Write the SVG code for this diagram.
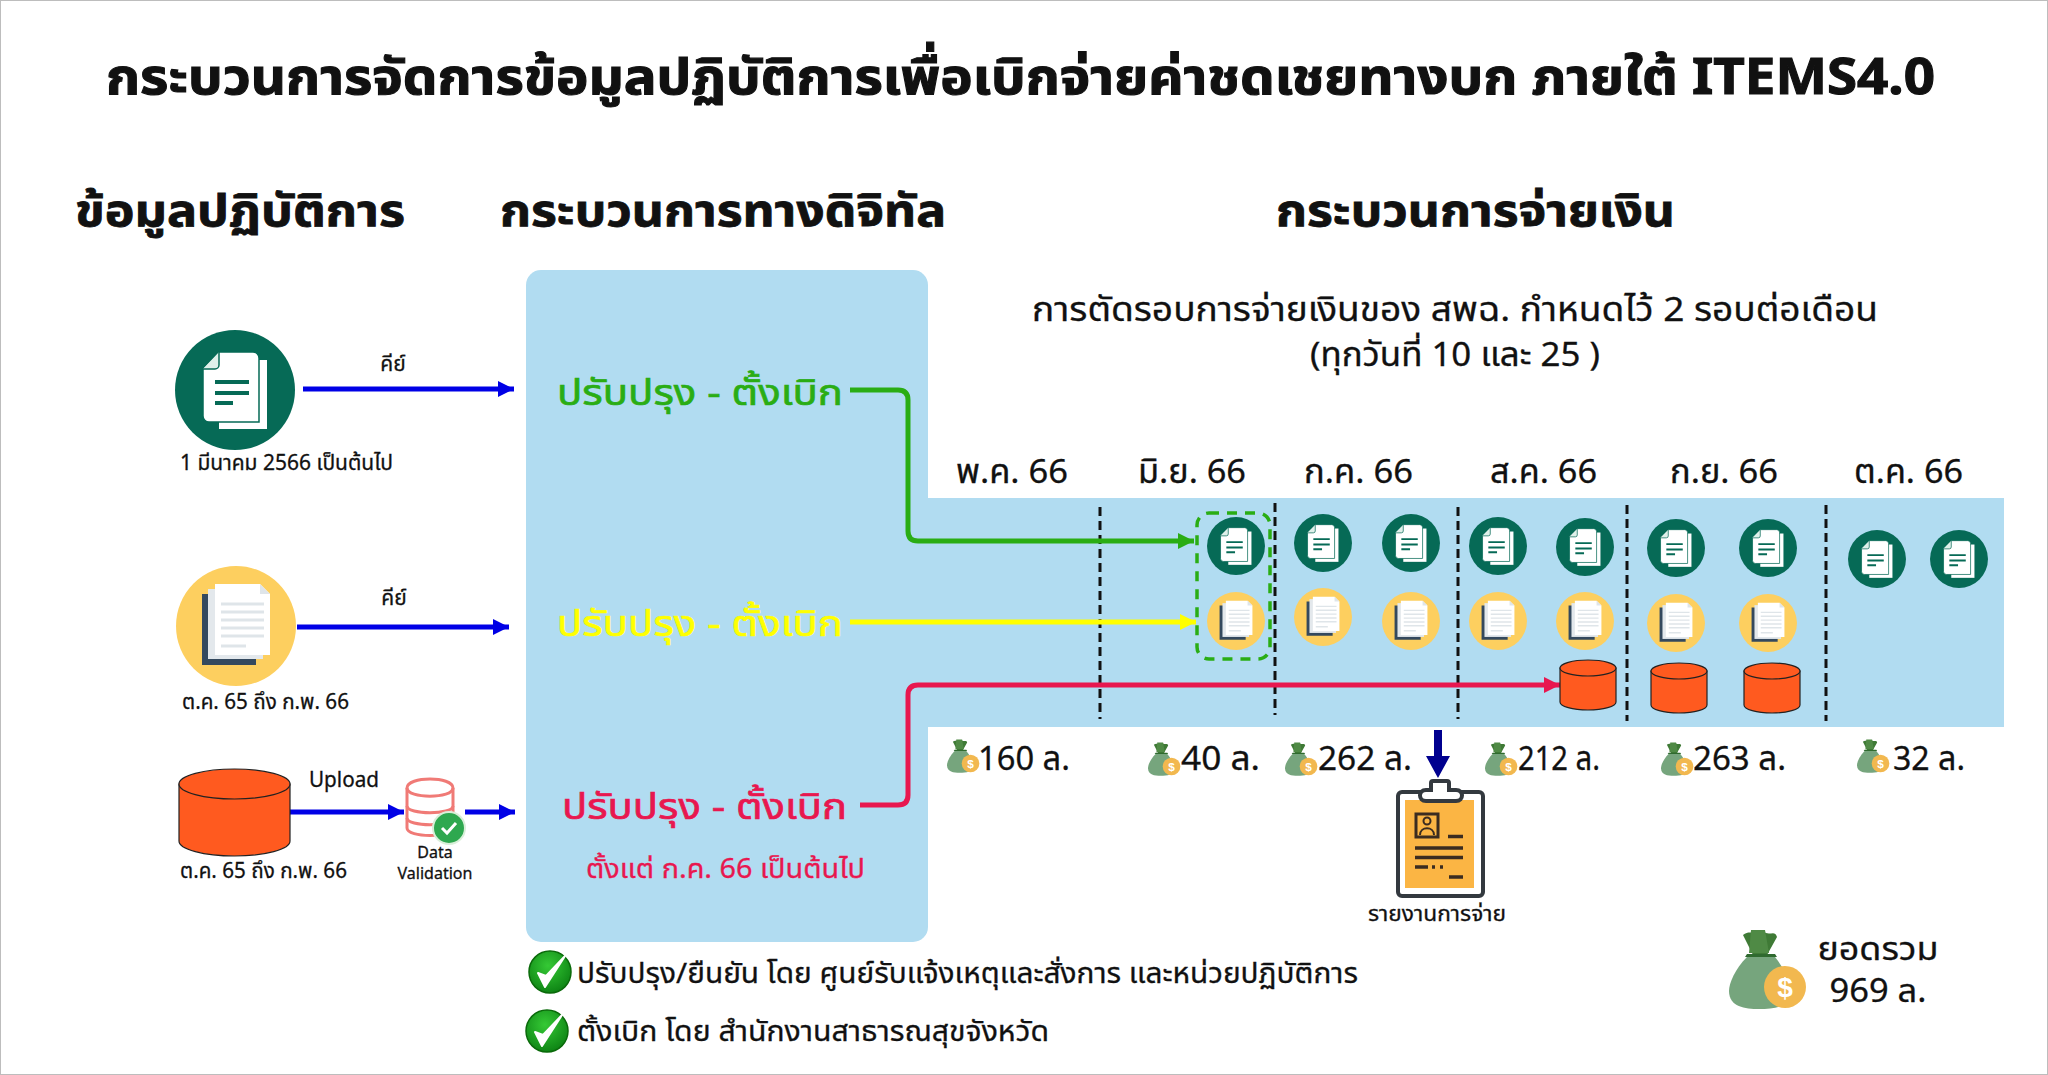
<svg xmlns="http://www.w3.org/2000/svg" xmlns:xlink="http://www.w3.org/1999/xlink" width="2048" height="1075" viewBox="0 0 2048 1075">
<style>
text{font-family:"Noto Sans","Noto Sans Thai","Liberation Sans",sans-serif;fill:#111;stroke:#111;stroke-width:.3;paint-order:stroke}
.b{font-weight:700;stroke-width:1.1}
.h{font-size:44px;font-weight:700;stroke-width:.8}
.m{font-size:33px;text-anchor:start}
.a{font-size:33px}
.s{font-size:21px}
.conn{fill:none;stroke-width:5;stroke-linejoin:round}
</style>
<defs>
<radialGradient id="okFill" cx=".45" cy=".35" r=".7"><stop offset="0" stop-color="#35c935"/><stop offset="1" stop-color="#0b7f12"/></radialGradient>
<marker id="mBlue" markerUnits="userSpaceOnUse" markerWidth="18" markerHeight="18" refX="16" refY="8" orient="auto"><path d="M0 0L16 8L0 16z" fill="#0000e6"/></marker>
<marker id="mGreen" markerUnits="userSpaceOnUse" markerWidth="18" markerHeight="18" refX="16" refY="8" orient="auto"><path d="M0 0L16 8L0 16z" fill="#2aad14"/></marker>
<marker id="mYellow" markerUnits="userSpaceOnUse" markerWidth="18" markerHeight="18" refX="16" refY="8" orient="auto"><path d="M0 0L16 8L0 16z" fill="#ffff00"/></marker>
<marker id="mRed" markerUnits="userSpaceOnUse" markerWidth="18" markerHeight="18" refX="16" refY="8" orient="auto"><path d="M0 0L16 8L0 16z" fill="#e8174f"/></marker>
<g id="docGBig">
<circle r="60" fill="#066a56"/>
<path d="M-16 -30H32V39H-16z" fill="#fff"/>
<path d="M-16 -38H18a6 6 0 0 1 6 6V32H-26a6 6 0 0 1 -6 -6V-22z" fill="#fff" stroke="#066a56" stroke-width="1.5"/>
<path d="M-32 -21H-20a4 4 0 0 0 4 -4V-38" fill="#dff0ea" stroke="#066a56" stroke-width="1.5"/>
<path d="M-20 -8H14M-20 3H14M-20 13H-2" stroke="#066a56" stroke-width="4" fill="none"/>
</g>
<g id="docYBig">
<circle r="60" fill="#fdcf5f"/>
<path d="M-34 -32H-26V31H20V39H-34z" fill="#34495e"/>
<path d="M-28 -37H27V33H-28z" fill="#e3e8ec"/>
<path d="M-21 -42H24L34 -32V29H-21z" fill="#fff"/>
<path d="M24 -42V-32H34z" fill="#dfe5e9"/>
<path d="M-15 -22H28M-15 -14H28M-15 -6H28M-15 2H28M-15 10H28M-15 20H10" stroke="#dfe5e9" stroke-width="3" fill="none"/>
</g>
<use id="docG" xlink:href="#docGBig" transform="scale(.483)"/>
<use id="docY" xlink:href="#docYBig" transform="scale(.483)"/>
<g id="canS">
<path d="M-28 -17V17A28 8 0 0 0 28 17V-17z" fill="#ff5a1f" stroke="#222" stroke-width="1.2"/>
<ellipse cy="-17" rx="28" ry="8" fill="#ff5a1f" stroke="#222" stroke-width="1.2"/>
</g>
<g id="moneyBig">
<path d="M14 4C22 -2 28 6 34 0C40 6 46 -2 48 6L38 24H24z" fill="#3f7a36"/>
<path d="M22 -1H36L40 22H20z" fill="#4f8a45"/>
<path d="M18 23H46L48 26H16z" fill="#2f6a2f"/>
<path d="M18 26C6 38 0 52 0 60C0 76 16 78 30 78C46 78 62 76 62 60C62 50 54 36 46 26z" fill="#76a57d"/>
<circle cx="56" cy="56" r="21" fill="#f2b84f"/>
<text x="56" y="66" text-anchor="middle" style="font-family:'Liberation Sans',sans-serif;font-size:28px;font-weight:700;fill:#fff;stroke:none">$</text>
</g>
<use id="moneyS" xlink:href="#moneyBig" transform="scale(.42)"/>
<g id="okMark">
<circle r="21" fill="url(#okFill)" stroke="#0a6a0a" stroke-width="1.5"/>
<path d="M-12 1L-5 15L15 -16L-4 4z" fill="#fff" stroke="#fff" stroke-width="2" stroke-linejoin="round"/>
</g>
</defs>
<rect width="2048" height="1075" fill="#fff"/>
<rect x=".5" y=".5" width="2047" height="1074" fill="none" stroke="#bdbdbd"/>

<g id="background">
<rect x="526" y="270" width="402" height="672" rx="15" fill="#b1dcf1"/>
<rect x="920" y="498" width="1084" height="229" fill="#b1dcf1"/>
</g>

<g id="titles">
<text x="106" y="94" class="b" style="font-size:50px" textLength="1829" lengthAdjust="spacingAndGlyphs">กระบวนการจัดการข้อมูลปฏิบัติการเพื่อเบิกจ่ายค่าชดเชยทางบก ภายใต้ ITEMS4.0</text>
<text x="75" y="226" class="h" textLength="330" lengthAdjust="spacingAndGlyphs">ข้อมูลปฏิบัติการ</text>
<text x="500" y="226" class="h" textLength="446" lengthAdjust="spacingAndGlyphs">กระบวนการทางดิจิทัล</text>
<text x="1276" y="226" class="h" textLength="399" lengthAdjust="spacingAndGlyphs">กระบวนการจ่ายเงิน</text>
<text x="1032" y="321" style="font-size:33px" textLength="846" lengthAdjust="spacingAndGlyphs">การตัดรอบการจ่ายเงินของ สพฉ. กำหนดไว้ 2 รอบต่อเดือน</text>
<text x="1310" y="366" style="font-size:33px" textLength="290" lengthAdjust="spacingAndGlyphs">(ทุกวันที่ 10 และ 25 )</text>
</g>

<g id="months">
<text x="956" y="483" class="m" textLength="112" lengthAdjust="spacingAndGlyphs">พ.ค. 66</text>
<text x="1138" y="483" class="m" textLength="108" lengthAdjust="spacingAndGlyphs">มิ.ย. 66</text>
<text x="1304" y="483" class="m" textLength="109" lengthAdjust="spacingAndGlyphs">ก.ค. 66</text>
<text x="1490" y="483" class="m" textLength="107" lengthAdjust="spacingAndGlyphs">ส.ค. 66</text>
<text x="1670" y="483" class="m" textLength="108" lengthAdjust="spacingAndGlyphs">ก.ย. 66</text>
<text x="1854" y="483" class="m" textLength="109" lengthAdjust="spacingAndGlyphs">ต.ค. 66</text>
</g>

<g id="dividers" fill="none" stroke="#111" stroke-width="3" stroke-dasharray="9 5">
<path d="M1100 507V719"/>
<path d="M1275 503V715"/>
<path d="M1458 507V719"/>
<path d="M1627 505V721"/>
<path d="M1826 505V721"/>
</g>

<g id="connectors">
<path class="conn" stroke="#0000e6" d="M303 389H514" marker-end="url(#mBlue)"/>
<path class="conn" stroke="#0000e6" d="M297 627H509" marker-end="url(#mBlue)"/>
<path class="conn" stroke="#0000e6" d="M290 812H404" marker-end="url(#mBlue)"/>
<path class="conn" stroke="#0000e6" d="M465 812H515" marker-end="url(#mBlue)"/>
<path class="conn" stroke="#2aad14" d="M850 390H898Q908 390 908 400V531Q908 541 918 541H1194" marker-end="url(#mGreen)"/>
<path class="conn" stroke="#ffff00" d="M850 622H1196" marker-end="url(#mYellow)"/>
<path class="conn" stroke="#e8174f" d="M860 805H898Q908 805 908 795V695Q908 685 918 685H1560" marker-end="url(#mRed)"/>
<path d="M1434 730H1442V756H1450L1438 778L1426 756H1434z" fill="#00008f"/>
</g>

<g id="source-1">
<use xlink:href="#docGBig" x="235" y="390"/>
<text x="393" y="371" class="s" text-anchor="middle">คีย์</text>
<text x="180" y="470" class="s" textLength="213" lengthAdjust="spacingAndGlyphs">1 มีนาคม 2566 เป็นต้นไป</text>
</g>
<g id="source-2">
<use xlink:href="#docYBig" x="236" y="626"/>
<text x="394" y="605" class="s" text-anchor="middle">คีย์</text>
<text x="182" y="709" class="s" textLength="167" lengthAdjust="spacingAndGlyphs">ต.ค. 65 ถึง ก.พ. 66</text>
</g>
<g id="source-3">
<path d="M179 784V841A55.500 15 0 0 0 290 841V784z" fill="#ff5a1f" stroke="#222" stroke-width="1.2"/>
<ellipse cx="234.500" cy="784" rx="55.500" ry="15" fill="#ff5a1f" stroke="#222" stroke-width="1.2"/>
<text x="309" y="787" class="s" textLength="70" lengthAdjust="spacingAndGlyphs">Upload</text>
<text x="180" y="878" class="s" textLength="167" lengthAdjust="spacingAndGlyphs">ต.ค. 65 ถึง ก.พ. 66</text>
</g>
<g id="data-validation">
<path d="M407 788C407 776 453 776 453 788V828C453 838 407 838 407 828z" fill="#fff" stroke="#f07a76" stroke-width="3"/>
<path d="M407 788C407 799 453 799 453 788M407 806C407 815 453 815 453 806M407 818C407 827 453 827 453 818" fill="none" stroke="#f07a76" stroke-width="3"/>
<circle cx="449" cy="828" r="16" fill="#2ea84f" stroke="#d9efd9" stroke-width="2"/>
<path d="M442 828L447 833L456 823" fill="none" stroke="#fff" stroke-width="3"/>
<text x="435" y="858" text-anchor="middle" style="font-size:16px">Data</text>
<text x="435" y="879" text-anchor="middle" style="font-size:16px">Validation</text>
</g>

<g id="process-1"><text x="557" y="405" style="font-size:36px;fill:#2aad14;stroke:#2aad14;stroke-width:.7" textLength="286" lengthAdjust="spacingAndGlyphs">ปรับปรุง - ตั้งเบิก</text></g>
<g id="process-2"><text x="557" y="636" style="font-size:36px;fill:#ffff00;stroke:#ffff00;stroke-width:.7" textLength="286" lengthAdjust="spacingAndGlyphs">ปรับปรุง - ตั้งเบิก</text></g>
<g id="process-3">
<text x="562" y="819" style="font-size:36px;fill:#e8174f;stroke:#e8174f;stroke-width:.7" textLength="285" lengthAdjust="spacingAndGlyphs">ปรับปรุง - ตั้งเบิก</text>
<text x="586" y="878" style="font-size:27px;fill:#e8174f;stroke:#e8174f" textLength="279" lengthAdjust="spacingAndGlyphs">ตั้งแต่ ก.ค. 66 เป็นต้นไป</text>
</g>

<g id="timeline-icons">
<rect x="1197" y="513" width="73" height="146" rx="12" fill="none" stroke="#2aad14" stroke-width="3.500" stroke-dasharray="10 8"/>
<g transform="translate(1236 546)"><use xlink:href="#docG"/></g>
<g transform="translate(1323 543)"><use xlink:href="#docG"/></g>
<g transform="translate(1411 543)"><use xlink:href="#docG"/></g>
<g transform="translate(1498 546)"><use xlink:href="#docG"/></g>
<g transform="translate(1585 547)"><use xlink:href="#docG"/></g>
<g transform="translate(1676 548)"><use xlink:href="#docG"/></g>
<g transform="translate(1768 548)"><use xlink:href="#docG"/></g>
<g transform="translate(1877 559)"><use xlink:href="#docG"/></g>
<g transform="translate(1959 559)"><use xlink:href="#docG"/></g>
<g transform="translate(1236 621)"><use xlink:href="#docY"/></g>
<g transform="translate(1323 617)"><use xlink:href="#docY"/></g>
<g transform="translate(1411 621)"><use xlink:href="#docY"/></g>
<g transform="translate(1498 621)"><use xlink:href="#docY"/></g>
<g transform="translate(1585 621)"><use xlink:href="#docY"/></g>
<g transform="translate(1676 623)"><use xlink:href="#docY"/></g>
<g transform="translate(1768 623)"><use xlink:href="#docY"/></g>
<g transform="translate(1588 685)"><use xlink:href="#canS"/></g>
<g transform="translate(1679 688)"><use xlink:href="#canS"/></g>
<g transform="translate(1772 688)"><use xlink:href="#canS"/></g>
</g>

<g id="amounts">
<g transform="translate(947 740)"><use xlink:href="#moneyS"/></g>
<text x="978" y="770" class="a" textLength="92" lengthAdjust="spacingAndGlyphs">160 ล.</text>
<g transform="translate(1148 743)"><use xlink:href="#moneyS"/></g>
<text x="1181" y="770" class="a" textLength="79" lengthAdjust="spacingAndGlyphs">40 ล.</text>
<g transform="translate(1285 743)"><use xlink:href="#moneyS"/></g>
<text x="1318" y="770" class="a" textLength="94" lengthAdjust="spacingAndGlyphs">262 ล.</text>
<g transform="translate(1485 743)"><use xlink:href="#moneyS"/></g>
<text x="1518" y="770" class="a" textLength="82" lengthAdjust="spacingAndGlyphs">212 ล.</text>
<g transform="translate(1661 743)"><use xlink:href="#moneyS"/></g>
<text x="1693" y="770" class="a" textLength="93" lengthAdjust="spacingAndGlyphs">263 ล.</text>
<g transform="translate(1857 740)"><use xlink:href="#moneyS"/></g>
<text x="1893" y="770" class="a" textLength="72" lengthAdjust="spacingAndGlyphs">32 ล.</text>
</g>

<g id="report">
<rect x="1398" y="792" width="85" height="104" rx="4" fill="#fff" stroke="#33393f" stroke-width="4"/>
<rect x="1405" y="800" width="69" height="88" fill="#fbb544"/>
<path d="M1426 801C1418 801 1418 790 1426 790H1431V783Q1431 781 1433 781H1447Q1449 781 1449 783V790H1456C1464 790 1464 801 1456 801z" fill="#fff" stroke="#33393f" stroke-width="4"/>
<rect x="1416" y="814" width="22" height="23" fill="#fbb544" stroke="#3b2c20" stroke-width="3"/>
<circle cx="1427" cy="821" r="3.500" fill="none" stroke="#3b2c20" stroke-width="2"/>
<path d="M1420 835C1420 826 1434 826 1434 835" fill="none" stroke="#3b2c20" stroke-width="2"/>
<path d="M1448 836.500H1463M1415 848H1463M1415 857.500H1463M1415 867H1428M1432 867H1435M1440 867H1443M1449 877H1463" stroke="#3b2c20" stroke-width="3.500" fill="none"/>
<text x="1368" y="921" class="s" textLength="138" lengthAdjust="spacingAndGlyphs">รายงานการจ่าย</text>
</g>

<g id="total">
<g transform="translate(1729 931)"><use xlink:href="#moneyBig"/></g>
<text x="1878" y="960" text-anchor="middle" style="font-size:32px" textLength="121" lengthAdjust="spacingAndGlyphs">ยอดรวม</text>
<text x="1878" y="1002" text-anchor="middle" style="font-size:32px" textLength="97" lengthAdjust="spacingAndGlyphs">969 ล.</text>
</g>

<g id="notes">
<g transform="translate(550 972)"><use xlink:href="#okMark"/></g>
<text x="577" y="983" style="font-size:28px" textLength="781" lengthAdjust="spacingAndGlyphs">ปรับปรุง/ยืนยัน โดย ศูนย์รับแจ้งเหตุและสั่งการ และหน่วยปฏิบัติการ</text>
<g transform="translate(547 1031)"><use xlink:href="#okMark"/></g>
<text x="577" y="1041" style="font-size:28px" textLength="472" lengthAdjust="spacingAndGlyphs">ตั้งเบิก โดย สำนักงานสาธารณสุขจังหวัด</text>
</g>
</svg>
